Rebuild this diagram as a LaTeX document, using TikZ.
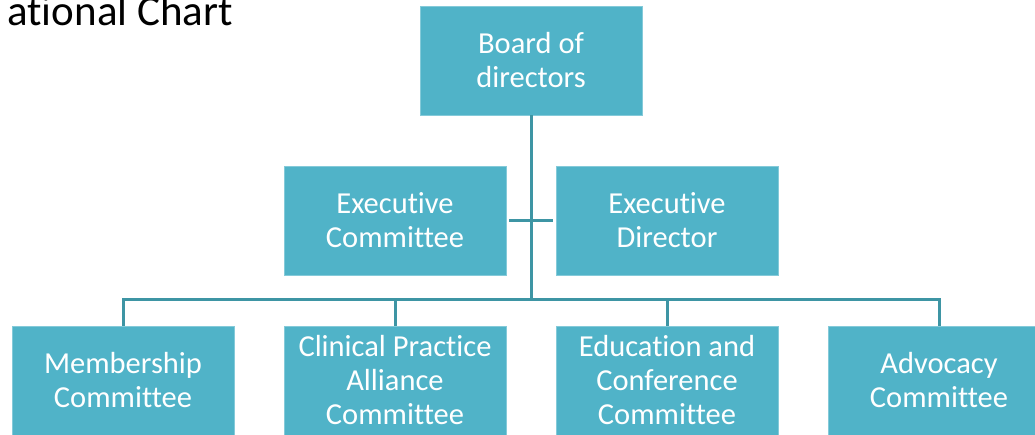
\documentclass[tikz,border=0pt]{standalone}
\usepackage{fontspec}
\setmainfont{Carlito}[Ligatures=NoCommon]
\definecolor{boxteal}{HTML}{50B3C8}
\definecolor{lineteal}{HTML}{3E95A4}
\tikzset{
  orgbox/.style={fill=boxteal, draw=white!30!boxteal, line width=0.8pt,
    minimum width=222pt, minimum height=109pt, inner sep=0pt,
    text=white, align=center, font=\fontsize{30.5}{34}\selectfont},
  orgline/.style={draw=lineteal, line width=3pt}
}
\begin{document}
\begin{tikzpicture}[x=1pt, y=-1pt, line join=miter]
	\def \busy{300};
	\def \boty{380.5};
	\useasboundingbox (0,0) rectangle (1035,435);
	\clip (0,0) rectangle (1035,435);
	% title, cut by the page edge
	\node[anchor=base east, inner sep=0pt, font=\fontsize{43}{45}\selectfont] (title) at (233,26) {ational Chart};
	% boxes
	\node[orgbox] (board) at (531,60.5) {Board of\\directors};
	\node[orgbox] (excom) at (395,220.5) {Executive\\Committee};
	\node[orgbox] (exdir) at (667,220.5) {Executive\\Director};
	\node[orgbox] (member) at (123,\boty) {Membership\\Committee};
	\node[orgbox] (clinical) at (395,\boty) {Clinical Practice\\Alliance\\Committee};
	\node[orgbox] (educ) at (667,\boty) {Education and\\Conference\\Committee};
	\node[orgbox] (advocacy) at (939,\boty) {Advocacy\\Committee};
	\coordinate (hub) at (531,\busy);
	% connectors
	\draw[orgline] (board.south) -- (hub);
	\draw[orgline] ([xshift=3pt]excom.east) -- ([xshift=-3pt]exdir.west);
	\draw[orgline] (member.north) -- (member.north |- hub) -- (advocacy.north |- hub) -- (advocacy.north);
	\foreach \n in {clinical,educ}
		\draw[orgline] (\n.north |- hub) -- (\n.north);
\end{tikzpicture}
\end{document}
